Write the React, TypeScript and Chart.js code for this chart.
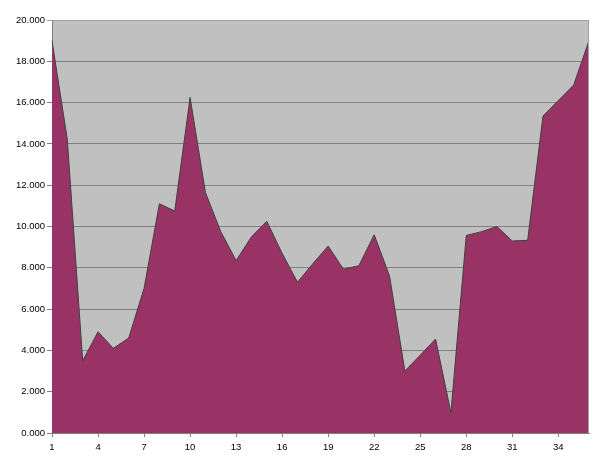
import React, { useEffect, useRef } from "react";
import { Chart, registerables } from "chart.js";

Chart.register(...registerables);

const categories: string[] = Array.from({ length: 36 }, (_, i) => String(i + 1));
const values: number[] = [
  19.0, 14.2, 3.5, 4.9, 4.1, 4.6, 7.0, 11.1, 10.75, 16.25,
  11.65, 9.75, 8.35, 9.5, 10.25, 8.7, 7.3, 8.2, 9.05, 7.93,
  8.1, 9.6, 7.6, 3.0, 3.77, 4.55, 0.98, 9.57, 9.75, 10.0,
  9.3, 9.33, 15.35, 16.1, 16.85, 19.0,
];
const yMin = 0;
const yMax = 20;
const yStep = 2;
const labelEvery = 3;

const plotBg = {
  id: "plotBg",
  beforeDraw(chart: any) {
    const { ctx, chartArea } = chart;
    ctx.save();
    ctx.fillStyle = "#C0C0C0";
    ctx.fillRect(chartArea.left, chartArea.top, chartArea.right - chartArea.left, chartArea.bottom - chartArea.top);
    ctx.restore();
  },
  afterDatasetsDraw(chart: any) {
    const { ctx, chartArea } = chart;
    ctx.save();
    ctx.strokeStyle = "#A0A0A0";
    ctx.lineWidth = 1;
    ctx.beginPath();
    ctx.moveTo(chartArea.left, chartArea.top + 0.5);
    ctx.lineTo(chartArea.right - 0.5, chartArea.top + 0.5);
    ctx.lineTo(chartArea.right - 0.5, chartArea.bottom);
    ctx.stroke();
    ctx.restore();
  },
};

export default function App() {
  const ref = useRef<HTMLCanvasElement | null>(null);
  useEffect(() => {
    if (!ref.current) return;
    const font = { family: "'Liberation Sans', Arial, sans-serif", size: 9.5 };
    const chart = new Chart(ref.current, {
      type: "line",
      data: {
        labels: categories,
        datasets: [
          {
            data: values,
            fill: "origin",
            backgroundColor: "#993366",
            borderColor: "#404040",
            borderWidth: 1,
            pointRadius: 0,
            tension: 0,
          },
        ],
      },
      options: {
        responsive: false,
        animation: false,
        layout: { padding: { top: 20, right: 11, left: 0, bottom: 0 } },
        plugins: { legend: { display: false }, tooltip: { enabled: false } },
        scales: {
          x: {
            type: "category",
            offset: false,
            afterFit: (s: any) => { s.height = 32; },
            border: { display: true, color: "#808080", width: 1 },
            grid: {
              drawOnChartArea: false,
              drawTicks: true,
              tickLength: 4,
              color: (c: any) => (c.index % labelEvery === 0 ? "#808080" : "rgba(0,0,0,0)"),
            },
            ticks: {
              autoSkip: false,
              maxRotation: 0,
              padding: 5,
              color: "#000",
              font,
              callback: (_v: any, i: number) => (i % labelEvery === 0 ? categories[i] : ""),
            },
          },
          y: {
            min: yMin,
            max: yMax,
            afterFit: (s: any) => { s.width = 52; },
            border: { display: true, color: "#808080", width: 1 },
            grid: {
              color: (c: any) => (c.tick && c.tick.value === yMax ? "#A0A0A0" : "#808080"),
              tickLength: 5,
            },
            ticks: {
              stepSize: yStep,
              padding: 2,
              color: "#000",
              font,
              callback: (v: any) => Number(v).toFixed(3),
            },
          },
        },
      },
      plugins: [plotBg],
    });
    return () => chart.destroy();
  }, []);
  return (
    <div style={{ position: "absolute", left: 0, top: 0, width: 600, height: 465, background: "#fff" }}>
      <canvas ref={ref} width={600} height={465} />
    </div>
  );
}
